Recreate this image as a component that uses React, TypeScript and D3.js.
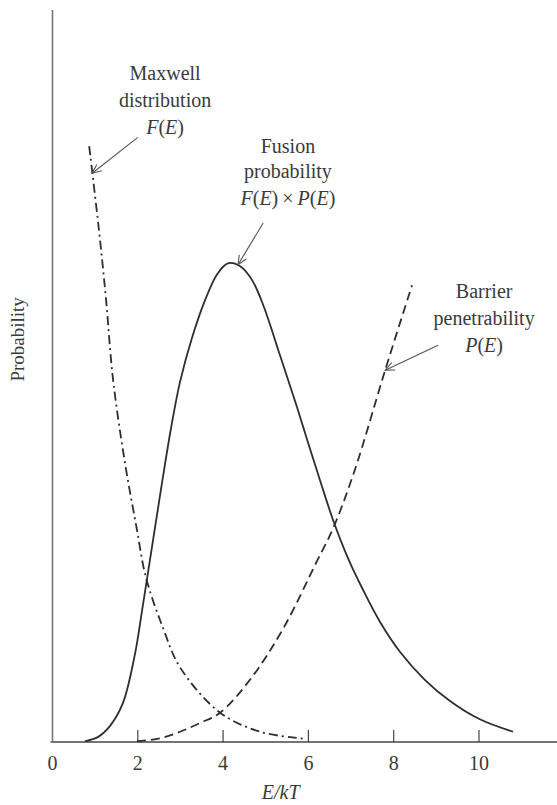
import * as d3 from 'd3';
import { useEffect, useRef } from 'react';

const width = 557;
const height = 805;

// E/kT values and probabilities (arbitrary units, axis top = 100)
const fusionE = [0.76, 1.07, 1.35, 1.65, 1.93, 2.12, 2.57, 2.78, 2.99, 3.27, 3.58, 3.86, 4.11, 4.4, 4.68, 4.94, 5.33, 5.73, 5.97, 6.27, 6.58, 6.93, 7.28, 7.68, 8.15, 8.73, 9.32, 10.02, 10.8];
const fusionP = [0.1, 0.7, 2.2, 5.3, 11.9, 18.7, 35.5, 42.9, 49.2, 55.2, 60.4, 63.9, 65.4, 65.0, 63.1, 59.7, 52.9, 45.8, 41.3, 35.8, 30.3, 25.1, 20.8, 16.4, 12.3, 8.5, 5.6, 3.1, 1.4];

const maxwellE = [0.86, 1.09, 1.25, 1.42, 1.7, 1.98, 2.19, 2.59, 2.99, 3.93, 4.87, 5.81, 5.92];
const maxwellP = [81.4, 69.9, 60.8, 49.5, 38.1, 29.0, 22.5, 15.6, 10.2, 4.0, 1.4, 0.5, 0.4];

const barrierE = [1.98, 2.52, 2.99, 3.46, 3.93, 4.63, 5.4, 6.2, 6.58, 7.09, 7.8, 8.43];
const barrierP = [0.1, 0.5, 1.4, 2.6, 4.0, 8.5, 15.4, 24.7, 29.2, 37.2, 50.8, 62.4];

const xTicks = [0, 2, 4, 6, 8, 10];

// annotations: label lines and arrows in data coordinates
const annotations = [
  { lines: ['Maxwell', 'distribution', 'F(E)'], x: 2.64, y: [90.5, 86.8, 83.1], tail: [2.0, 82.6], tip: [0.93, 77.7] },
  { lines: ['Fusion', 'probability', 'F(E)\u2009×\u2009P(E)'], x: 5.52, y: [80.5, 77.0, 73.4], tail: [4.94, 70.9], tip: [4.35, 65.2] },
  { lines: ['Barrier', 'penetrability', 'P(E)'], x: 10.12, y: [60.6, 56.9, 53.3], tail: [9.04, 54.2], tip: [7.8, 50.8] },
];

const font = '"Liberation Serif", "DejaVu Serif", serif';
const ink = '#3a3a3a';

function App() {
  const ref = useRef<SVGSVGElement>(null);

  useEffect(() => {
    const svg = d3.select(ref.current);
    svg.selectAll('*').remove();

    const x = d3.scaleLinear().domain([0, 12]).range([52.5, 52.5 + 12 * 42.65]);
    const y = d3.scaleLinear().domain([0, 100]).range([742, 10]);

    // axes
    svg.append('line')
      .attr('x1', x(0) - 2).attr('x2', width).attr('y1', y(0)).attr('y2', y(0))
      .attr('stroke', '#444').attr('stroke-width', 1.6);
    svg.append('line')
      .attr('x1', x(0)).attr('x2', x(0)).attr('y1', y(0)).attr('y2', y(100))
      .attr('stroke', '#777').attr('stroke-width', 1.6);

    svg.selectAll('.tick').data(xTicks.filter(t => t > 0)).enter().append('line')
      .attr('x1', d => x(d)).attr('x2', d => x(d))
      .attr('y1', y(0)).attr('y2', y(0) - 12)
      .attr('stroke', '#444').attr('stroke-width', 1.2);

    svg.selectAll('.ticklabel').data(xTicks).enter().append('text')
      .attr('x', d => x(d)).attr('y', y(0) + 28)
      .attr('text-anchor', 'middle')
      .attr('font-family', font).attr('font-size', 20).attr('fill', ink)
      .text(d => d);

    // x label E/kT
    svg.append('text')
      .attr('x', x(5.35)).attr('y', 799)
      .attr('text-anchor', 'middle')
      .attr('font-family', font).attr('font-size', 20).attr('fill', ink)
      .attr('font-style', 'italic')
      .text('E/kT');

    svg.append('text')
      .attr('transform', `translate(24, ${y(55)}) rotate(-90)`)
      .attr('text-anchor', 'middle')
      .attr('font-family', font).attr('font-size', 19).attr('fill', ink)
      .text('Probability');

    // curves
    const line = d3.line<[number, number]>()
      .x(d => x(d[0])).y(d => y(d[1]))
      .curve(d3.curveCatmullRom.alpha(0.5));

    const series = [
      { e: fusionE, p: fusionP, dash: null },
      { e: maxwellE, p: maxwellP, dash: '9 4 2 4' },
      { e: barrierE, p: barrierP, dash: '9 5' },
    ];
    series.forEach(s => {
      const pts = s.e.map((v, i) => [v, s.p[i]] as [number, number]);
      svg.append('path')
        .attr('d', line(pts))
        .attr('fill', 'none')
        .attr('stroke', '#2e2e2e')
        .attr('stroke-width', 1.8)
        .attr('stroke-dasharray', s.dash);
    });

    // annotations
    annotations.forEach(a => {
      a.lines.forEach((txt, i) => {
        const t = svg.append('text')
          .attr('x', x(a.x)).attr('y', y(a.y[i]))
          .attr('text-anchor', 'middle')
          .attr('font-family', font).attr('font-size', 20).attr('fill', ink);
        if (i < 2) {
          t.text(txt);
        } else {
          // letters italic, parentheses and operators upright
          txt.split(/([A-Z])/).filter(s => s.length).forEach(part => {
            t.append('tspan')
              .attr('font-style', /^[A-Z]$/.test(part) ? 'italic' : 'normal')
              .text(part);
          });
        }
      });

      const x0 = x(a.tail[0]), y0 = y(a.tail[1]);
      const x1 = x(a.tip[0]), y1 = y(a.tip[1]);
      svg.append('line')
        .attr('x1', x0).attr('y1', y0).attr('x2', x1).attr('y2', y1)
        .attr('stroke', '#555').attr('stroke-width', 1.1);
      const ang = Math.atan2(y0 - y1, x0 - x1);
      const len = 10, spread = 0.42;
      const head = [
        [x1 + len * Math.cos(ang + spread), y1 + len * Math.sin(ang + spread)],
        [x1, y1],
        [x1 + len * Math.cos(ang - spread), y1 + len * Math.sin(ang - spread)],
      ];
      svg.append('path')
        .attr('d', d3.line()(head as [number, number][]))
        .attr('fill', 'none').attr('stroke', '#555').attr('stroke-width', 1.1);
    });
  }, []);

  return (
    <svg
      ref={ref}
      width={width}
      height={height}
      style={{ position: 'absolute', left: 0, top: 0, background: '#fff' }}
    />
  );
}

export default App;
